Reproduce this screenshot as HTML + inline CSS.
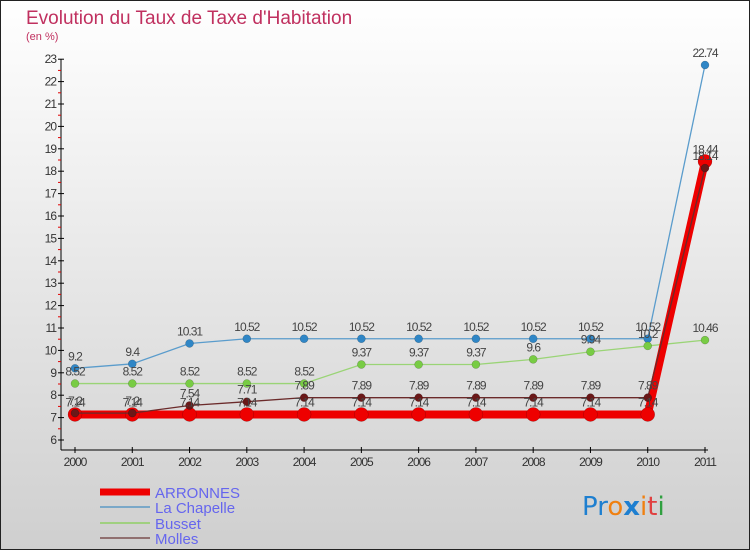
<!DOCTYPE html>
<html><head><meta charset="utf-8"><style>
html,body{margin:0;padding:0}
body{width:750px;height:550px;overflow:hidden;font-family:"Liberation Sans",sans-serif}
</style></head><body>
<svg id="chart" width="750" height="550" xmlns="http://www.w3.org/2000/svg">
<defs><linearGradient id="bg" x1="0" y1="0" x2="0" y2="1"><stop offset="0" stop-color="#ffffff"/><stop offset="1" stop-color="#cfcfcf"/></linearGradient></defs>
<rect x="0.5" y="0.5" width="749" height="549" fill="url(#bg)" stroke="#222" stroke-width="1"/>
<text x="26" y="24" font-size="19" fill="#c0305f">Evolution du Taux de Taxe d'Habitation</text>
<text x="26" y="40" font-size="11" fill="#c0305f">(en %)</text>
<g id="axes"></g><g id="series"></g><g id="labels"></g>
<g font-size="15" fill="#6666ee">
<line x1="100" y1="492" x2="150" y2="492" stroke="#ee0000" stroke-width="7"/>
<text x="155" y="498">ARRONNES</text>
<line x1="100" y1="507" x2="150" y2="507" stroke="#7aa8c8" stroke-width="2"/>
<text x="155" y="513">La Chapelle</text>
<line x1="100" y1="523" x2="150" y2="523" stroke="#a0d080" stroke-width="2"/>
<text x="155" y="529">Busset</text>
<line x1="100" y1="538" x2="150" y2="538" stroke="#907070" stroke-width="2"/>
<text x="155" y="544">Molles</text>
</g>
<g font-size="26" font-family="'DejaVu Sans',sans-serif">
<text x="582" y="515"><tspan fill="#1e7fd0">Pr</tspan><tspan fill="#f08010">o</tspan><tspan fill="#1e7fd0" font-weight="bold">x</tspan><tspan fill="#f08010">i</tspan><tspan fill="#e04040">t</tspan><tspan fill="#30a040">i</tspan></text>
</g>
</svg>
<script>
const years=[2000,2001,2002,2003,2004,2005,2006,2007,2008,2009,2010,2011];
const arronnes=[7.14,7.14,7.14,7.14,7.14,7.14,7.14,7.14,7.14,7.14,7.14,18.44];
const laChapelle=[9.2,9.4,10.31,10.52,10.52,10.52,10.52,10.52,10.52,10.52,10.52,22.74];
const busset=[8.52,8.52,8.52,8.52,8.52,9.37,9.37,9.37,9.6,9.94,10.2,10.46];
const molles=[7.2,7.2,7.54,7.71,7.89,7.89,7.89,7.89,7.89,7.89,7.89,18.14];
const yTicks=[6,7,8,9,10,11,12,13,14,15,16,17,18,19,20,21,22,23];
const NS="http://www.w3.org/2000/svg";
function xs(i){return 75+i*(705-75)/(years.length-1);}
function ys(v){return 440-(v-6)*22.4;}
function mk(tag,attrs,parent){const e=document.createElementNS(NS,tag);for(const k in attrs)e.setAttribute(k,attrs[k]);parent.appendChild(e);return e;}
const axes=document.getElementById('axes'),ser=document.getElementById('series'),lab=document.getElementById('labels');
let l=mk('line',{x1:61,y1:ys(23),x2:61,y2:450,stroke:'#000','stroke-width':1},axes);


l=mk('line',{x1:61,y1:450,x2:708,y2:450,stroke:'#000','stroke-width':1},axes);


yTicks.forEach(v=>{
 mk('line',{x1:58,y1:ys(v),x2:64,y2:ys(v),stroke:'#000'},axes);
 if(v<23)mk('line',{x1:58,y1:ys(v+0.5),x2:61,y2:ys(v+0.5),stroke:'#e00000'},axes);
 const t=mk('text',{x:56,y:ys(v)+4,'font-size':12,fill:'#333','text-anchor':'end','letter-spacing':'-1'},axes);
 t.textContent=v;
 
 
});
years.forEach((yr,i)=>{
 mk('line',{x1:xs(i),y1:447,x2:xs(i),y2:453,stroke:'#000'},axes);
 const t=mk('text',{x:xs(i),y:466,'font-size':12,fill:'#333','text-anchor':'middle','letter-spacing':'-1'},axes);
 t.textContent=yr;
 
 
});
function series(data,name,color,width,r,dot){
 const p=mk('polyline',{points:data.map((v,i)=>xs(i)+','+ys(v)).join(' '),fill:'none',stroke:color,'stroke-width':width},ser);
 
 
 data.forEach((v,i)=>{
  const c=mk('circle',{cx:xs(i),cy:ys(v),r:r,fill:dot,stroke:'rgba(0,0,0,0.3)','stroke-width':0.5},ser);
  
  
  const t=mk('text',{x:xs(i),y:ys(v)-8,'font-size':12,fill:'#444','text-anchor':'middle','letter-spacing':'-1'},lab);
  t.textContent=v;
  
  
 });
}
series(laChapelle,'la-chapelle','#5a9ccc',1.3,4,'#2f86c6');
series(busset,'busset','#9ad476',1.3,4,'#78cc44');
series(arronnes,'arronnes','#ee0000',8,7,'#ee0000');
series(molles,'molles','#6b2a2a',1.3,4,'#6a1818');
</script>
</body></html>
